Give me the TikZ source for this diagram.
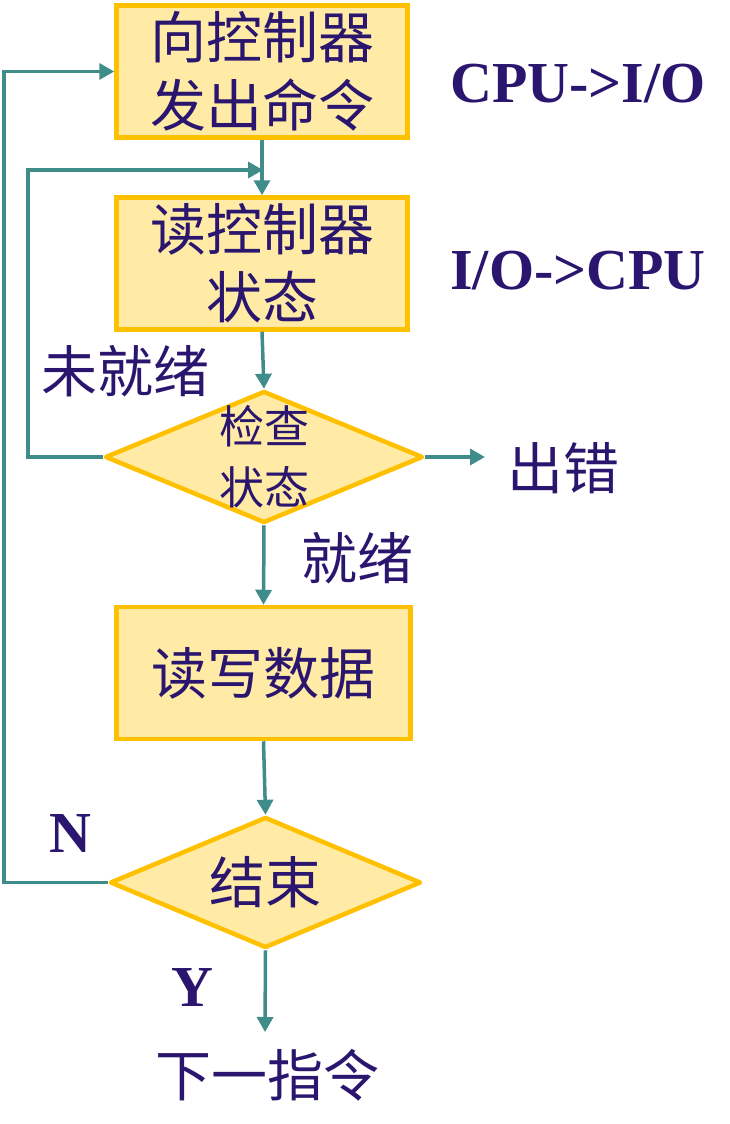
\documentclass[tikz,border=0pt]{standalone}
\usepackage{fontspec}
\usepackage{tikz}
\usetikzlibrary{shapes.geometric,arrows.meta,positioning}
\newfontfamily\cjk{Noto Sans CJK SC}
\newfontfamily\timesbold{Liberation Serif}
\definecolor{inknavy}{RGB}{42,22,110}
\definecolor{flowteal}{RGB}{64,140,138}
\definecolor{boxgold}{RGB}{255,192,0}
\definecolor{boxfill}{RGB}{255,235,165}

\begin{document}
\begin{tikzpicture}[x=1pt, y=-1pt,
    stepbox/.style={rectangle, draw=boxgold, fill=boxfill, line width=4.5pt, minimum width=291pt, minimum height=132pt, inner sep=0pt, align=center, text=inknavy, font=\cjk\fontsize{56}{68}\selectfont},
    decision/.style={diamond, draw=boxgold, fill=boxfill, line width=4.5pt, inner sep=0pt, line join=round},
    dtext/.style={inner sep=0pt, align=center, text=inknavy, font=\cjk\fontsize{45}{61}\selectfont},
    flow/.style={-{Triangle[length=15pt,width=16pt]}, line width=3.5pt, color=flowteal},
    cjklabel/.style={inner sep=0pt, text=inknavy, font=\cjk\fontsize{56}{68}\selectfont},
    latlabel/.style={inner sep=0pt, anchor=base, text=inknavy, font=\timesbold\bfseries\fontsize{58}{60}\selectfont}
  ]
    \useasboundingbox (0,0) rectangle (730,1124);

    \node[stepbox] (cmd) at (262,71.5) {向控制器\\发出命令};
    \node[stepbox] (status) at (262,263.5) {读控制器\\状态};
    \node[decision, minimum width=318pt, minimum height=132pt, label={[dtext]center:检查\\状态}] (check) at (264,457) {};
    \node[stepbox, minimum width=294pt] (rw) at (263.5,673) {读写数据};
    \node[decision, minimum width=311pt, minimum height=131pt, label={[dtext, font=\cjk\fontsize{56}{68}\selectfont]center:结束}] (done) at (265.5,882.5) {};

    \coordinate (join1) at (263,170);
    \coordinate (fail) at (485,457);
    \coordinate (nextin) at (265,1032);

    \draw[flow] (cmd.south) -- (status.north);
    \draw[flow] (status.south) -- (check.north);
    \draw[flow] (check.south) -- (rw.north);
    \draw[flow] (rw.south) -- (done.north);
    \draw[flow] (check.west) -- ++(-75,0) |- (join1);
    \draw[flow] (done.west) -- ++(-104,0) |- (cmd.west);
    \draw[flow] (check.east) -- (fail);
    \draw[flow] (done.south) -- (nextin);

    \node[cjklabel] (failtext) at (563,468) {出错};
    \node[cjklabel] (notready) at (125,371) {未就绪};
    \node[cjklabel] (ready) at (357,558) {就绪};
    \node[cjklabel] (next) at (267,1075) {下一指令};
    \node[latlabel] (nolabel) at (70,852) {N};
    \node[latlabel] (yeslabel) at (192,1006) {Y};
    \node[latlabel] (outdir) at (578,102) {CPU->I/O};
    \node[latlabel] (indir) at (578,289) {I/O->CPU};
  \end{tikzpicture}
\end{document}
